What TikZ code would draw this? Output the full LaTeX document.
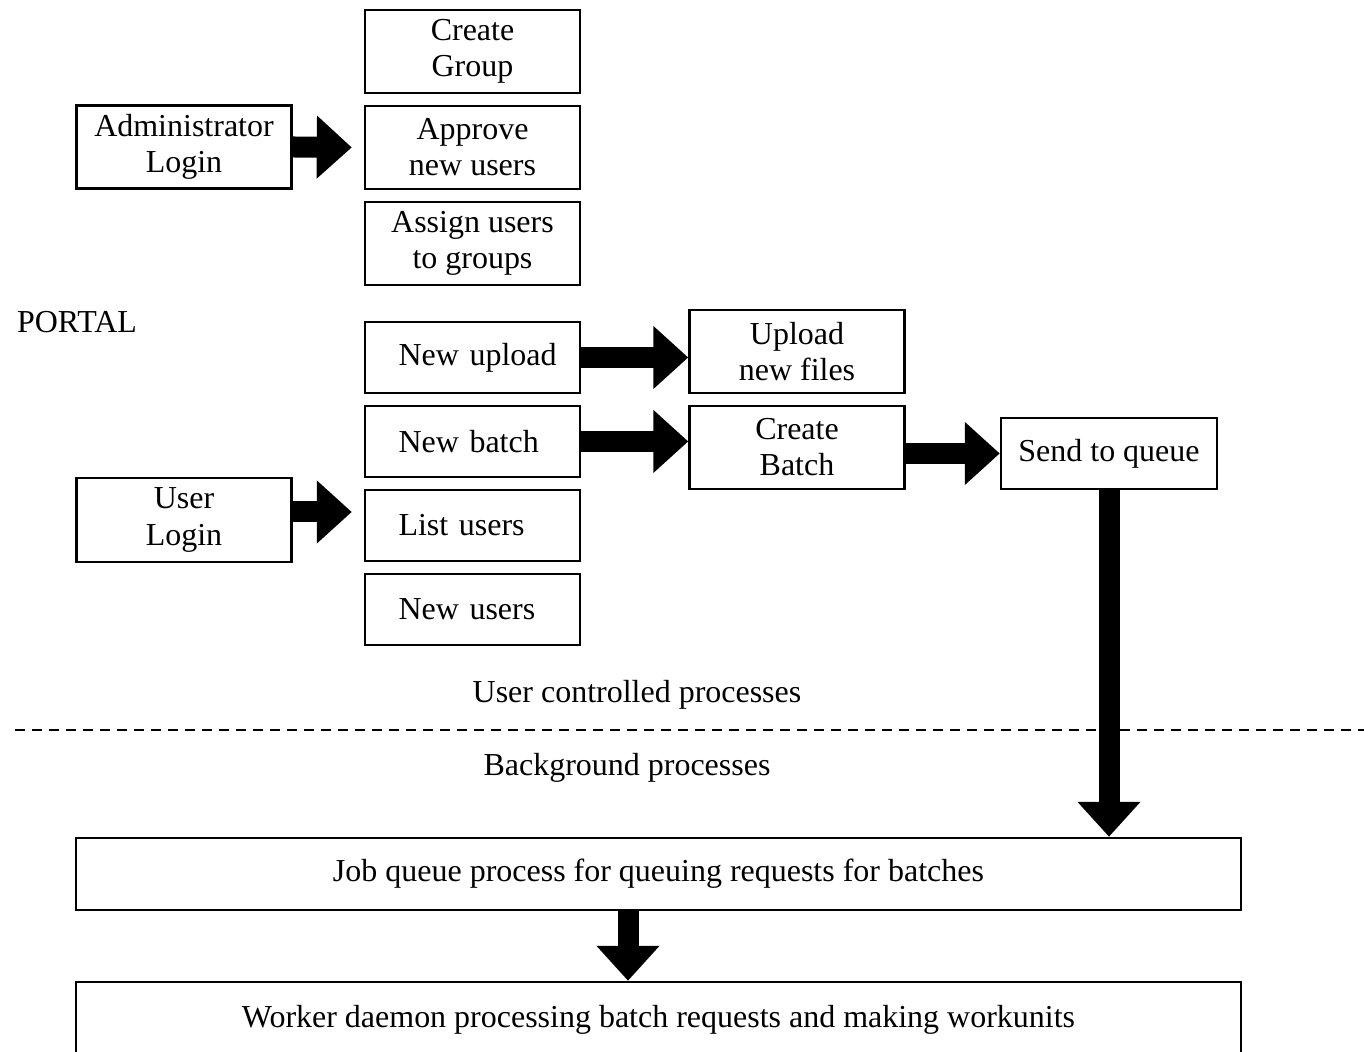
\documentclass[tikz,border=0pt]{standalone}
\usepackage{fontspec}
\setmainfont{Liberation Serif}
\usetikzlibrary{arrows.meta, positioning}

\begin{document}
\begin{tikzpicture}[
    font=\fontsize{9.1}{10.3}\selectfont,
    node distance=0.105cm,
    box/.style={rectangle, draw, line width=0.7pt, align=center, inner sep=2pt, minimum width=2.15cm, minimum height=0.83cm},
    listbox/.style={box, minimum height=0.71cm, text width=1.8cm, inner xsep=0.175cm, align=left, execute at begin node={\hspace*{0.16cm}}},
    widebox/.style={box, minimum width=11.65cm, minimum height=0.72cm},
    bigarrow/.style={line width=0.21cm, -{Triangle[length=0.35cm, width=0.61cm]}},
    sepline/.style={line width=0.7pt, dash pattern=on 0.1cm off 0.07cm}
]
\useasboundingbox (0,0) rectangle (13.64,-10.52);

% ---------- nodes ----------
% administrator column
\node (admin) [box] at (1.84,-1.47) {Administrator\\Login};
\node (creategrp) [box] at (4.725,-0.515) {Create\\Group};
\node (approve) [box, below=of creategrp] {Approve\\new users};
\node (assign) [box, below=of approve] {Assign users\\to groups};

\node (portal) at (0.77,-3.22) {PORTAL};

% user column
\node (userlogin) [box, minimum height=0.84cm] at (1.84,-5.20) {User\\Login};
\node (newupload) [listbox] at (4.725,-3.575) {New upload};
\node (newbatch) [listbox, below=of newupload] {New batch};
\node (listusers) [listbox, below=of newbatch] {List users};
\node (newusers) [listbox, below=of listusers] {New users};

% upload / batch
\node (uploadfiles) [box] at (7.97,-3.515) {Upload\\new files};
\node (createbatch) [box, below=of uploadfiles] {Create\\Batch};
\node (sendq) [box, minimum width=2.16cm, minimum height=0.71cm] at (11.09,-4.535) {Send to queue};

% separator texts
\node (usertext) at (6.37,-6.95) {User controlled processes};
\node (bgtext) at (6.27,-7.68) {Background processes};
\coordinate (sepL) at (0.15,-7.3);
\coordinate (sepR) at (13.64,-7.3);

% background processes
\node (jobq) [widebox] at (6.585,-8.74) {Job queue process for queuing requests for batches};
\node (worker) [widebox, minimum height=0.76cm] at (6.585,-10.20) {Worker daemon processing batch requests and making workunits};
\coordinate (down) at (6.28,0);

% ---------- arrows ----------
\draw [bigarrow] (admin.east) -- ([xshift=-0.12cm]approve.west);
\draw [bigarrow] ([yshift=0.08cm]userlogin.east) -- ([xshift=-0.12cm,yshift=0.08cm]userlogin.east -| listusers.west);

\draw [bigarrow] (newupload.east) -- (newupload.east -| uploadfiles.west);
\draw [bigarrow] (newbatch.east) -- (newbatch.east -| createbatch.west);
\draw [bigarrow] (createbatch.east |- sendq.west) -- (sendq.west);

\draw [bigarrow] (sendq.south) -- (sendq.south |- jobq.north);
\draw [bigarrow] (jobq.south -| down) -- (worker.north -| down);

% ---------- dashed line ----------
\draw [sepline] (sepL) -- (sepR);

\end{tikzpicture}
\end{document}
